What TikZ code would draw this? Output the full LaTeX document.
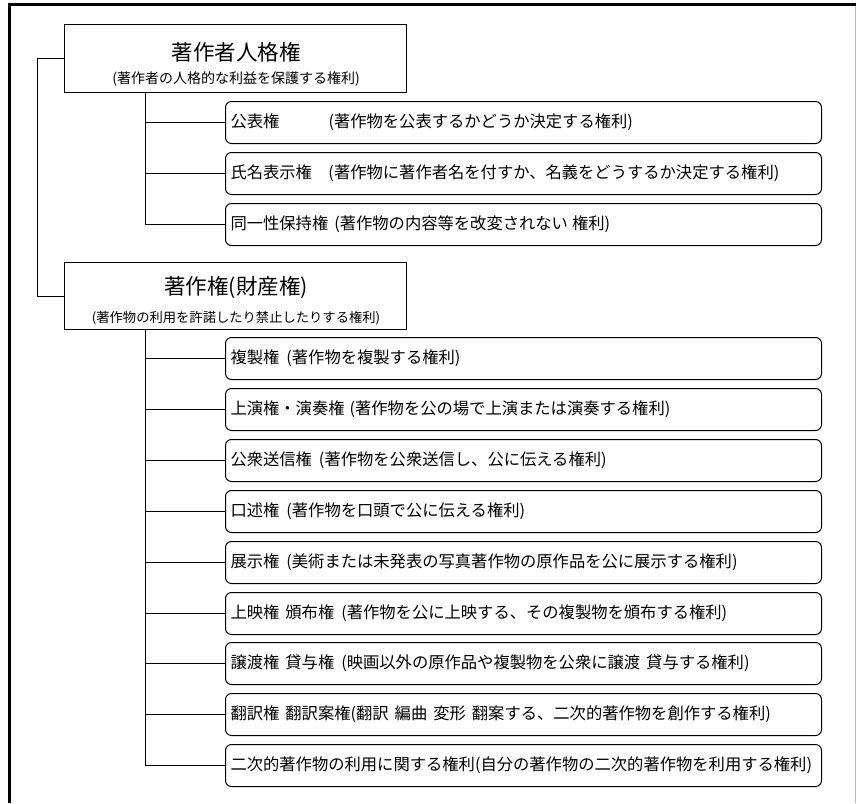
\documentclass[tikz,border=0pt]{standalone}
\usepackage{fontspec}
\setmainfont{Noto Sans CJK JP}
\begin{document}
\begin{tikzpicture}[x=1pt,y=-1pt,
  parentbox/.style={draw, line width=1pt, minimum width=342pt, minimum height=68pt, inner sep=0pt, anchor=north west},
  childbox/.style={draw, line width=1pt, rounded corners=6pt, minimum width=596pt, minimum height=42pt,
    text width=586pt, align=left, inner xsep=5pt, inner ysep=0pt, anchor=north west,
    font=\fontsize{16.3}{18}\selectfont},
  ttl/.style={inner sep=0pt, font=\fontsize{21.5}{24}\selectfont},
  sub/.style={inner sep=0pt, font=\fontsize{14}{16}\selectfont},
  wire/.style={line width=0.9pt}]
\useasboundingbox (0,0) rectangle (856,803);
% outer frame
\draw[line width=3pt] (9.5,803) -- (9.5,4.7) -- (855.5,4.7);
\draw[line width=1pt, black!25] (855.5,6) -- (855.5,803);

% parent boxes
\node[parentbox] (p1) at (64,24) {};
\node[ttl] (p1t) at (236,52) {著作者人格権};
\node[sub] (p1s) at (236,79) {(著作者の人格的な利益を保護する権利)};

\node[parentbox, minimum height=67pt] (p2) at (64,262) {};
\node[ttl] (p2t) at (236,288) {著作権(財産権)};
\node[sub, font=\fontsize{13.3}{15}\selectfont] (p2s) at (236,318) {(著作物の利用を許諾したり禁止したりする権利)};

% children of p1
\node[childbox] (a1) at (225,101) {\mbox{\makebox[98pt][l]{公表権}(著作物を公表するかどうか決定する権利)}};
\node[childbox] (a2) at (225,152) {\mbox{\makebox[98pt][l]{氏名表示権}(著作物に著作者名を付すか、名義をどうするか決定する権利)}};
\node[childbox] (a3) at (225,203) {\mbox{同一性保持権\hspace{6pt}(著作物の内容等を改変されない\hspace{4pt}権利)}};

% children of p2
\node[childbox] (b1) at (225,337) {\mbox{複製権\hspace{7pt}(著作物を複製する権利)}};
\node[childbox] (b2) at (225,388) {\mbox{上演権・演奏権\hspace{5pt}(著作物を公の場で上演または演奏する権利)}};
\node[childbox] (b3) at (225,439) {\mbox{公衆送信権\hspace{7pt}(著作物を公衆送信し、公に伝える権利)}};
\node[childbox] (b4) at (225,490) {\mbox{口述権\hspace{7pt}(著作物を口頭で公に伝える権利)}};
\node[childbox] (b5) at (225,541) {\mbox{展示権\hspace{7pt}(美術または未発表の写真著作物の原作品を公に展示する権利)}};
\node[childbox] (b6) at (225,592) {\mbox{上映権\hspace{6pt}頒布権\hspace{7pt}(著作物を公に上映する、その複製物を頒布する権利)}};
\node[childbox] (b7) at (225,642) {\mbox{譲渡権\hspace{6pt}貸与権\hspace{7pt}(映画以外の原作品や複製物を公衆に譲渡\hspace{6pt}貸与する権利)}};
\node[childbox] (b8) at (225,693) {\mbox{翻訳権\hspace{6pt}翻訳案権(翻訳\hspace{6pt}編曲\hspace{6pt}変形\hspace{6pt}翻案する、二次的著作物を創作する権利)}};
\node[childbox] (b9) at (225,744) {\mbox{二次的著作物の利用に関する権利(自分の著作物の二次的著作物を利用する権利)}};

% connectors
\draw[wire] (p1.west) -- ++(-27,0) |- (p2.west);

\coordinate (t1) at (145,92);
\draw[wire] (t1) |- (a3.west);
\foreach \c in {a1,a2} \draw[wire] (t1 |- \c.west) -- (\c.west);

\coordinate (t2) at (145,329);
\draw[wire] (t2) |- (b9.west);
\foreach \c in {b1,b2,b3,b4,b5,b6,b7,b8} \draw[wire] (t2 |- \c.west) -- (\c.west);
\end{tikzpicture}
\end{document}
